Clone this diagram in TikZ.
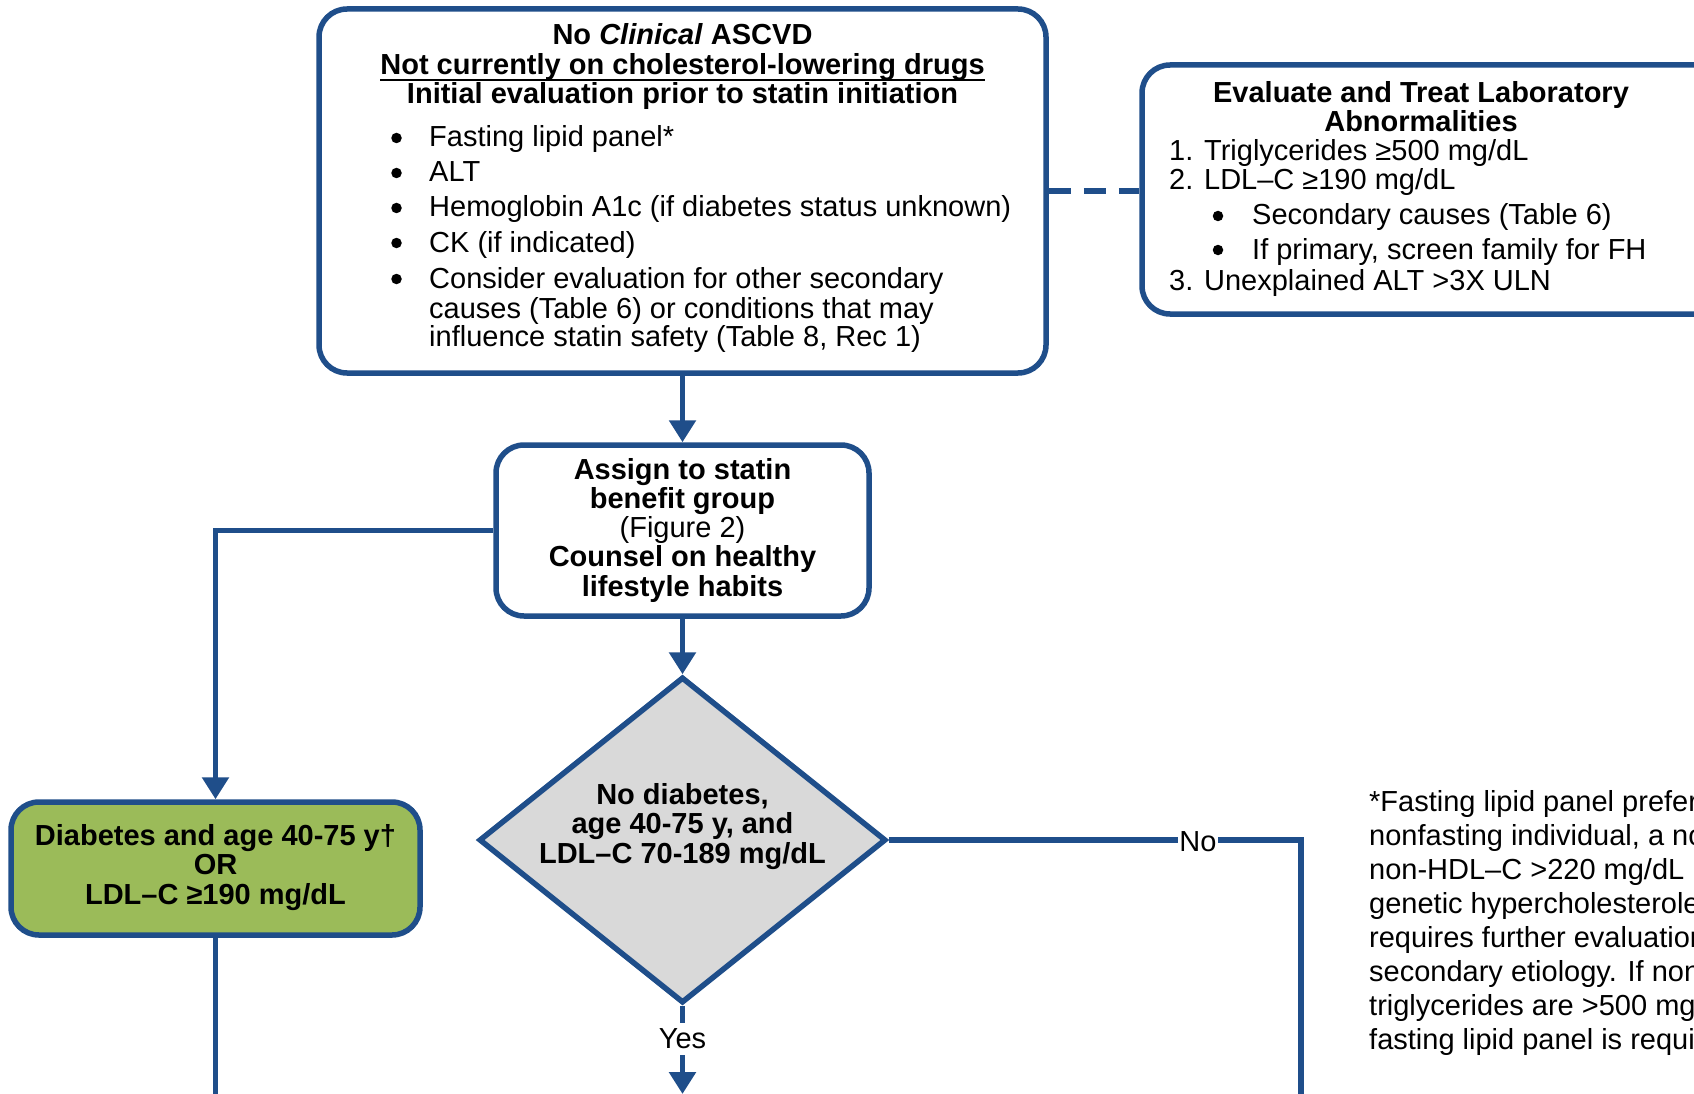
\documentclass[tikz,border=0pt]{standalone}
\usepackage{fontspec}
\setmainfont{Liberation Sans}
\usetikzlibrary{arrows.meta,shapes.geometric}
\definecolor{flowblue}{RGB}{31,78,138}
\definecolor{riskgreen}{RGB}{155,187,89}
\definecolor{decgray}{RGB}{217,217,217}
\newcommand{\txtsize}{\fontsize{29}{29}\selectfont}

\begin{document}
\begin{tikzpicture}[x=1pt,y=-1pt,
  box/.style={draw=flowblue, line width=5.5pt, rounded corners=28pt, fill=white, inner sep=0pt},
  conn/.style={draw=flowblue, line width=5.5pt},
  arr/.style={conn, -{Triangle[width=26pt,length=22pt]}},
  hd/.style={font=\bfseries\txtsize, anchor=base, inner sep=0pt},
  ctx/.style={font=\txtsize, anchor=base, inner sep=0pt},
  tx/.style={font=\txtsize, anchor=base west, inner sep=0pt},
  bul/.style={circle, fill=black, inner sep=0pt, minimum size=10.5pt},
  lbl/.style={font=\txtsize, fill=white, inner sep=0pt, inner xsep=1.5pt, minimum height=32pt}
]
\useasboundingbox (0,0) rectangle (1694,1094);
\fill[white] (0,0) rectangle (1694,1094);
\clip (0,0) rectangle (1694,1094);

% ---------- boxes ----------
\node[box, minimum width=727pt, minimum height=364pt] (eval) at (682.5,191) {};
\node[box, minimum width=620pt, minimum height=249pt] (lab) at (1452,189.5) {};
\node[box, minimum width=373pt, minimum height=171pt] (assign) at (682.5,530.5) {};
\node[box, fill=riskgreen, minimum width=409pt, minimum height=133pt] (risk) at (215.5,868.5) {};
\node[diamond, draw=flowblue, line width=5.5pt, fill=decgray,
      minimum width=407pt, minimum height=326pt, inner sep=0pt] (dia) at (682.5,840) {};

% ---------- initial evaluation ----------
\node[hd] (e1) at (682.5,45) {No \textit{Clinical} ASCVD};
\node[hd] (e2) at (682.5,75) {Not currently on cholesterol-lowering drugs};
\draw[line width=2.2pt] ([yshift=-5pt]e2.base west) -- ([yshift=-5pt]e2.base east);
\node[hd] (e3) at (682.5,104) {Initial evaluation prior to statin initiation};
\node[bul] (eb1) at (396.5,138) {};
\node[tx]  (ei1) at (429,147) {Fasting lipid panel*};
\node[bul] (eb2) at (396.5,173) {};
\node[tx]  (ei2) at (429,182) {ALT};
\node[bul] (eb3) at (396.5,208) {};
\node[tx]  (ei3) at (429,217) {Hemoglobin A1c (if diabetes status unknown)};
\node[bul] (eb4) at (396.5,243) {};
\node[tx]  (ei4) at (429,252) {CK (if indicated)};
\node[bul] (eb5) at (396.5,279) {};
\node[tx]  (ei5) at (429,288) {Consider evaluation for other secondary};
\node[tx]  (ei6) at (429,318) {causes (Table 6) or conditions that may};
\node[tx]  (ei7) at (429,346) {influence statin safety (Table 8, Rec 1)};

% ---------- laboratory abnormalities ----------
\node[hd] (l1) at (1421,103) {Evaluate and Treat Laboratory};
\node[hd] (l2) at (1421,132) {Abnormalities};
\node[tx] (l3) at (1169,161) {1. Triglycerides ≥500 mg/dL};
\node[tx] (l4) at (1169,190) {2. LDL–C ≥190 mg/dL};
\node[bul] (lb1) at (1218,216) {};
\node[tx] (l5) at (1252,225) {Secondary causes (Table 6)};
\node[bul] (lb2) at (1218,250) {};
\node[tx] (l6) at (1252,259) {If primary, screen family for FH};
\node[tx] (l7) at (1169,290) {3. Unexplained ALT >3X ULN};

% ---------- statin benefit group ----------
\node[hd]  (a1) at (682.5,479) {Assign to statin};
\node[hd]  (a2) at (682.5,508) {benefit group};
\node[ctx] (a3) at (682.5,537) {(Figure 2)};
\node[hd]  (a4) at (682.5,566) {Counsel on healthy};
\node[hd]  (a5) at (682.5,596) {lifestyle habits};

% ---------- diabetes / LDL group ----------
\node[hd] (r1) at (215.5,845) {Diabetes and age 40-75 y†};
\node[hd] (r2) at (215.5,874) {OR};
\node[hd] (r3) at (215.5,904) {LDL–C ≥190 mg/dL};

% ---------- decision ----------
\node[hd] (d1) at (682.5,804) {No diabetes,};
\node[hd] (d2) at (682.5,833) {age 40-75 y, and};
\node[hd] (d3) at (682.5,863) {LDL–C 70-189 mg/dL};

% ---------- footnote ----------
\node[tx] (f1) at (1369,811) {*Fasting lipid panel prefer};
\node[tx] (f2) at (1369,845) {nonfasting individual, a no};
\node[tx] (f3) at (1369,879) {non-HDL–C >220 mg/dL};
\node[tx] (f4) at (1369,913) {genetic hypercholesterole};
\node[tx] (f5) at (1369,947) {requires further evaluation};
\node[tx] (f6) at (1369,981) {secondary etiology. If non};
\node[tx] (f7) at (1369,1015) {triglycerides are >500 mg};
\node[tx] (f8) at (1369,1049) {fasting lipid panel is requi};

% ---------- connectors ----------
\coordinate (nocorner) at (1301,840);
\coordinate (noend) at (1301,1110);
\coordinate (riskend) at (215.5,1110);
\coordinate (yesend) at (682.5,1094);

\draw[conn, dash pattern=on 22pt off 13pt] (eval.east) -- (eval.east -| lab.west);
\draw[arr] (eval.south) -- (assign.north);
\draw[arr] (assign.west) -| (risk.north);
\draw[arr] (assign.south) -- (dia.north);
\draw[conn] (risk.south) -- (riskend);
\draw[conn] (dia.east) -- node[lbl, pos=0.75, yshift=-1.5pt] (nolbl) {No} (nocorner) -- (noend);
\draw[arr] (dia.south) -- node[lbl, pos=0.375] (yeslbl) {Yes} (yesend);
\end{tikzpicture}
\end{document}
